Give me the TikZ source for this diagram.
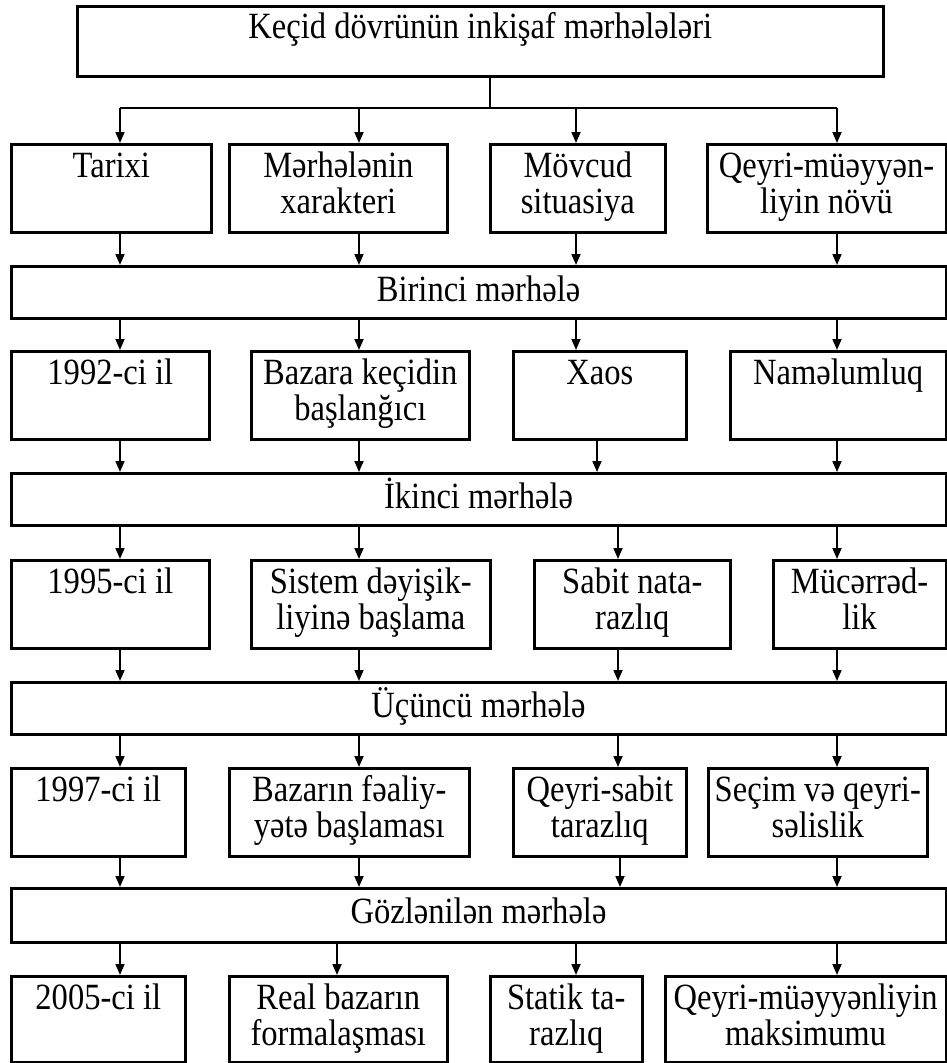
\documentclass[tikz,border=0pt]{standalone}
\usepackage{fontspec}
\setmainfont{Liberation Serif}[FakeStretch=0.88]
\usetikzlibrary{arrows.meta}

\tikzset{
    box/.style={draw, line width=2.6pt, anchor=north west, inner xsep=0pt, inner ysep=8pt,
        text height=25pt, text depth=47pt, align=flush center, font=\fontsize{37}{36}\selectfont},
    band/.style={box, inner ysep=10pt, text depth=7pt, text width=934.5pt},
    conn/.style={line width=1.7pt},
    arr/.style={conn, -{Triangle[length=11pt, width=9pt]}}
}

\begin{document}
\begin{tikzpicture}[x=1pt, y=-1pt]
            \useasboundingbox (0,0) rectangle (946,1063);
            \node[box, text width=806pt, inner ysep=7pt, text depth=31pt] (top) at (76,5) {Keçid dövrünün inkişaf mərhələləri};

            \node[box, text width=200pt] (tarixi) at (10,143) {Tarixi\\};
            \node[box, text width=218pt] (xarakter) at (228,143) {Mərhələnin\\xarakteri};
            \node[box, text width=175pt] (situasiya) at (489,143) {Mövcud\\situasiya};
            \node[box, text width=238.5pt] (novu) at (706,143) {Qeyri-müəyyən-\\liyin növü};
            \node[band] (birinci) at (10,265) {Birinci mərhələ};

            \node[box, text width=198pt] (il92) at (10,350) {1992-ci il\\};
            \node[box, text width=218pt] (kecid) at (250,350) {Bazara keçidin\\başlanğıcı};
            \node[box, text width=173pt] (xaos) at (512,350) {Xaos\\};
            \node[box, text width=215.5pt] (namelum) at (729,350) {Naməlumluq\\};
            \node[band] (ikinci) at (10,472) {İkinci mərhələ};

            \node[box, text width=198pt] (il95) at (10,559) {1995-ci il\\};
            \node[box, text width=239pt] (sistem) at (250,559) {Sistem dəyişik-\\liyinə başlama};
            \node[box, text width=196pt] (sabit) at (533,559) {Sabit nata-\\razlıq};
            \node[box, text width=172.5pt] (mucerred) at (772,559) {Mücərrəd-\\lik};
            \node[band] (ucuncu) at (10,681) {Üçüncü mərhələ};

            \node[box, text width=174pt] (il97) at (10,767) {1997-ci il\\};
            \node[box, text width=240pt] (bazarin) at (228,767) {Bazarın fəaliy-\\yətə başlaması};
            \node[box, text width=173pt] (qsabit) at (512,767) {Qeyri-sabit\\tarazlıq};
            \node[box, text width=219pt] (secim) at (707,767) {Seçim və qeyri-\\səlislik};
            \node[band, text depth=9pt] (gozlenilen) at (10,887) {Gözlənilən mərhələ};

            \node[box, text width=174pt, text depth=45pt] (il05) at (10,975) {2005-ci il\\};
            \node[box, text width=218pt, text depth=45pt] (real) at (228,975) {Real bazarın\\formalaşması};
            \node[box, text width=152pt, text depth=45pt] (statik) at (489,975) {Statik ta-\\razlıq};
            \node[box, text width=280.5pt, text depth=45pt] (maks) at (664,975) {\mbox{Qeyri-müəyyənliyin}\\maksimumu};

            \foreach \x in {120,337,359,490,576,597,618,620,837}
                \coordinate (x\x) at (\x,108);
            \draw[conn] (top.south -| x490) -- (x490);
            \draw[conn] (x120) -- (x837);
            \foreach \x/\b in {120/tarixi,359/xarakter,576/situasiya,837/novu}
                \draw[arr] (x\x) -- (x\x |- \b.north);
            \foreach \x/\a/\b in {120/tarixi/birinci,359/xarakter/birinci,576/situasiya/birinci,837/novu/birinci,
                                  120/birinci/il92,359/birinci/kecid,576/birinci/xaos,837/birinci/namelum,
                                  120/il92/ikinci,359/kecid/ikinci,597/xaos/ikinci,837/namelum/ikinci,
                                  120/ikinci/il95,359/ikinci/sistem,618/ikinci/sabit,837/ikinci/mucerred,
                                  120/il95/ucuncu,359/sistem/ucuncu,618/sabit/ucuncu,837/mucerred/ucuncu,
                                  120/ucuncu/il97,359/ucuncu/bazarin,618/ucuncu/qsabit,837/ucuncu/secim,
                                  120/il97/gozlenilen,359/bazarin/gozlenilen,620/qsabit/gozlenilen,837/secim/gozlenilen,
                                  120/gozlenilen/il05,337/gozlenilen/real,576/gozlenilen/statik,837/gozlenilen/maks}
                \draw[arr] (x\x |- \a.south) -- (x\x |- \b.north);
\end{tikzpicture}
\end{document}
